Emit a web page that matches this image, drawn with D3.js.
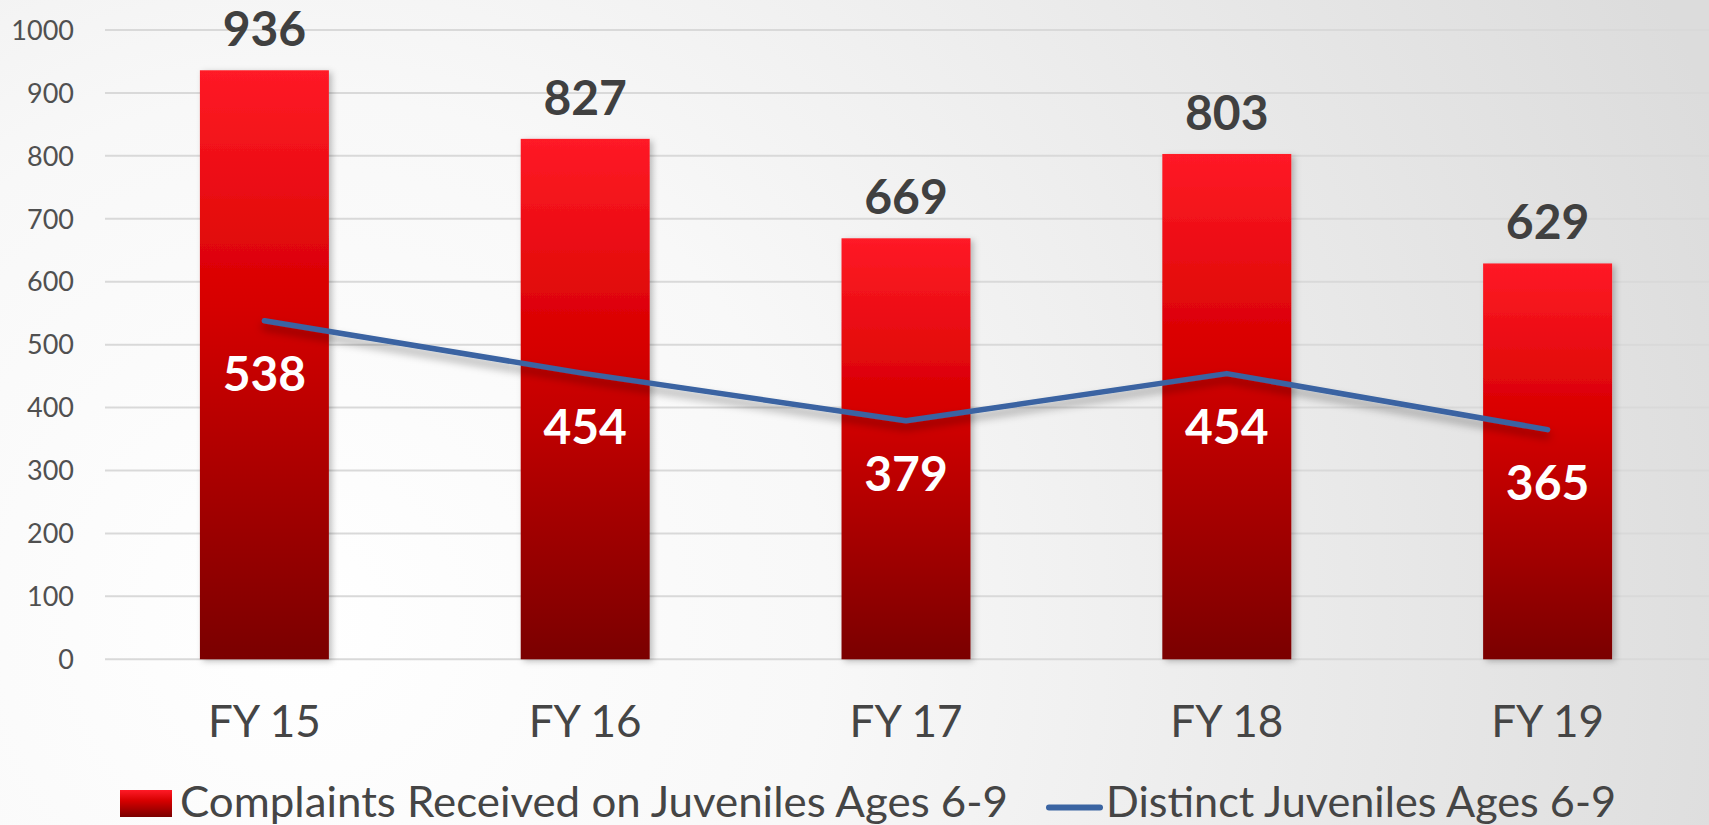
<!DOCTYPE html>
<html>
<head>
<meta charset="utf-8">
<script src="https://cdn.jsdelivr.net/npm/d3@7"></script>
<style>
  body { margin: 0; overflow: hidden; }
  svg { display: block; font-family: Lato, "Open Sans", sans-serif; }
</style>
</head>
<body>
<div id="chart"></div>
<script>
const years = ["FY 15", "FY 16", "FY 17", "FY 18", "FY 19"];
const complaints = [936, 827, 669, 803, 629];
const distinct = [538, 454, 379, 454, 365];
const yTicks = [0, 100, 200, 300, 400, 500, 600, 700, 800, 900, 1000];
const legendNames = ["Complaints Received on Juveniles Ages 6-9", "Distinct Juveniles Ages 6-9"];

const width = 1709, height = 825;

const svg = d3.select("#chart").append("svg")
    .attr("width", width)
    .attr("height", height);

const defs = svg.append("defs");

// background: soft light gray with a whiter patch at the lower left
const bg = defs.append("radialGradient")
    .attr("id", "bg")
    .attr("gradientUnits", "userSpaceOnUse")
    .attr("cx", 300).attr("cy", 620).attr("r", 1500);
bg.append("stop").attr("offset", "0").attr("stop-color", "#ffffff");
bg.append("stop").attr("offset", "0.35").attr("stop-color", "#f8f8f8");
bg.append("stop").attr("offset", "1").attr("stop-color", "#dcdcdc");

const barGrad = defs.append("linearGradient")
    .attr("id", "barGrad")
    .attr("x1", 0).attr("y1", 0).attr("x2", 0).attr("y2", 1);
barGrad.append("stop").attr("offset", "0").attr("stop-color", "#ff1a26");
barGrad.append("stop").attr("offset", "0.4").attr("stop-color", "#d60000");
barGrad.append("stop").attr("offset", "1").attr("stop-color", "#7a0000");

const barShadow = defs.append("filter").attr("id", "barShadow")
    .attr("x", "-10%").attr("y", "-10%").attr("width", "130%").attr("height", "130%");
barShadow.append("feDropShadow")
    .attr("dx", 3).attr("dy", 2).attr("stdDeviation", 3)
    .attr("flood-color", "#000").attr("flood-opacity", 0.25);

const lineShadow = defs.append("filter").attr("id", "lineShadow")
    .attr("x", "-10%").attr("y", "-50%").attr("width", "120%").attr("height", "200%");
lineShadow.append("feDropShadow")
    .attr("dx", 0).attr("dy", 6).attr("stdDeviation", 4)
    .attr("flood-color", "#000").attr("flood-opacity", 0.35);

svg.append("rect")
    .attr("width", width).attr("height", height)
    .attr("fill", "url(#bg)");

const x = d3.scaleBand()
    .domain(years)
    .range([104, 1708])
    .paddingInner(0.598)
    .paddingOuter(0.299);

const y = d3.scaleLinear()
    .domain([0, 1000])
    .range([659.3, 30]);

// gridlines
svg.append("g").selectAll("line")
    .data(yTicks)
    .enter().append("line")
    .attr("x1", 105).attr("x2", width)
    .attr("y1", d => y(d)).attr("y2", d => y(d))
    .attr("stroke", "#d9d9d9")
    .attr("stroke-width", 2);

// y axis labels
svg.append("g").selectAll("text")
    .data(yTicks)
    .enter().append("text")
    .attr("x", 74)
    .attr("y", d => y(d))
    .attr("dy", "0.36em")
    .attr("text-anchor", "end")
    .attr("font-size", 27)
    .attr("fill", "#505050")
    .text(d => d);

// bars
svg.append("g").selectAll("rect")
    .data(complaints)
    .enter().append("rect")
    .attr("x", (d, i) => x(years[i]))
    .attr("y", d => y(d))
    .attr("width", x.bandwidth())
    .attr("height", d => y(0) - y(d))
    .attr("fill", "url(#barGrad)")
    .attr("filter", "url(#barShadow)");

// bar value labels
svg.append("g").selectAll("text")
    .data(complaints)
    .enter().append("text")
    .attr("x", (d, i) => x(years[i]) + x.bandwidth() / 2)
    .attr("y", d => y(d) - 24)
    .attr("text-anchor", "middle")
    .attr("font-size", 48)
    .attr("font-weight", "bold")
    .attr("fill", "#404040")
    .text(d => d);

// line
const cx = i => x(years[i]) + x.bandwidth() / 2;
const line = d3.line()
    .x((d, i) => cx(i))
    .y(d => y(d));

svg.append("path")
    .datum(distinct)
    .attr("d", line)
    .attr("fill", "none")
    .attr("stroke", "#3a64a2")
    .attr("stroke-width", 5.5)
    .attr("stroke-linecap", "round")
    .attr("stroke-linejoin", "round")
    .attr("filter", "url(#lineShadow)");

// line value labels (below points)
svg.append("g").selectAll("text")
    .data(distinct)
    .enter().append("text")
    .attr("x", (d, i) => cx(i))
    .attr("y", d => y(d) + 70)
    .attr("text-anchor", "middle")
    .attr("font-size", 48)
    .attr("font-weight", "bold")
    .attr("fill", "#ffffff")
    .text(d => d);

// category labels
svg.append("g").selectAll("text")
    .data(years)
    .enter().append("text")
    .attr("x", d => x(d) + x.bandwidth() / 2)
    .attr("y", 736.7)
    .attr("text-anchor", "middle")
    .attr("font-size", 44)
    .attr("fill", "#454545")
    .text(d => d);

// legend
const legend = svg.append("g");
legend.append("rect")
    .attr("x", 120).attr("y", 790)
    .attr("width", 52).attr("height", 27)
    .attr("fill", "url(#barGrad)");
legend.append("text")
    .attr("x", 180).attr("y", 817)
    .attr("font-size", 42)
    .attr("fill", "#454545")
    .attr("textLength", 828)
    .attr("lengthAdjust", "spacingAndGlyphs")
    .text(legendNames[0]);
legend.append("line")
    .attr("x1", 1049).attr("x2", 1100)
    .attr("y1", 807.5).attr("y2", 807.5)
    .attr("stroke", "#3a64a2")
    .attr("stroke-width", 6)
    .attr("stroke-linecap", "round");
legend.append("text")
    .attr("x", 1106).attr("y", 817)
    .attr("font-size", 42)
    .attr("fill", "#454545")
    .attr("textLength", 510)
    .attr("lengthAdjust", "spacingAndGlyphs")
    .text(legendNames[1]);
</script>
</body>
</html>
